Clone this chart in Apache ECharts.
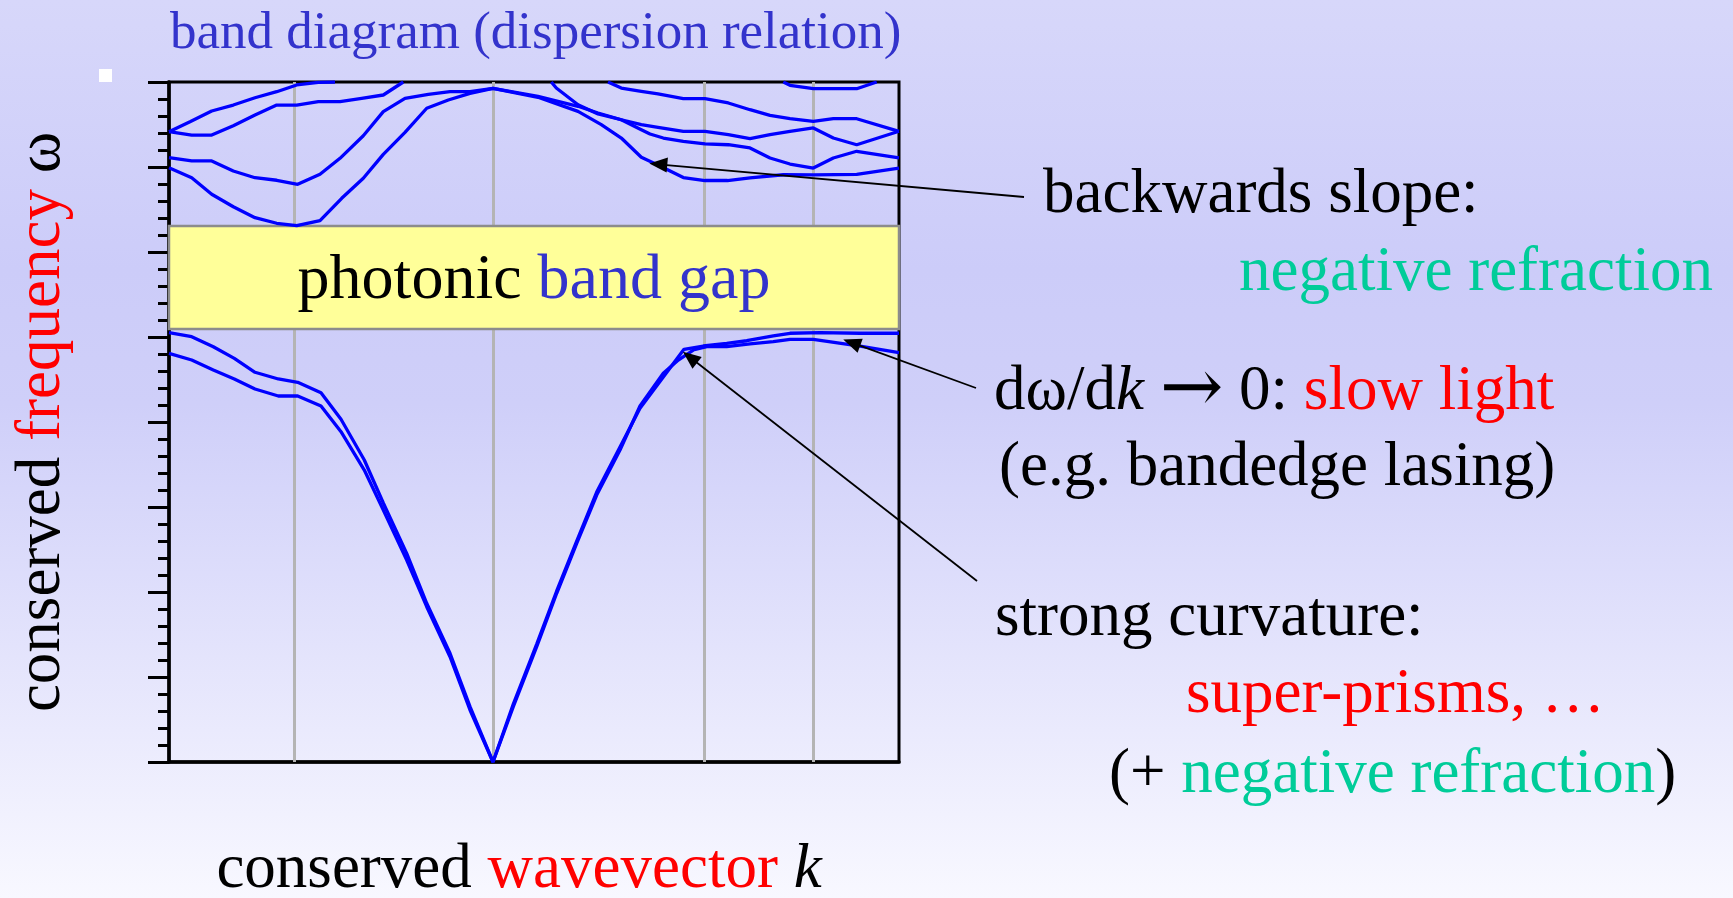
<!DOCTYPE html>
<html>
<head>
<meta charset="utf-8">
<title>band diagram</title>
<script src="https://cdn.jsdelivr.net/npm/echarts@6.0.0/dist/echarts.min.js"></script>
<style>
  html, body { margin: 0; padding: 0; }
  #chart { width: 1733px; height: 898px; }
</style>
</head>
<body>
<div id="chart"></div>
<script>
// k positions of the high-symmetry points (grey verticals)
const symK = [1.25, 3.24, 5.35, 6.44]
// photonic band gap [low, high] in ω
const gapRange = [5.094, 6.306]

// bands: [k, ω]
const band1 = [[0, 4.808], [0.227, 4.729], [0.443, 4.612], [0.653, 4.506], [0.86, 4.388], [1.093, 4.306],
  [1.287, 4.306], [1.52, 4.188], [1.72, 3.886], [1.953, 3.435], [2.143, 2.965], [2.377, 2.376],
  [2.577, 1.827], [2.81, 1.239], [3.01, 0.612], [3.24, 0], [3.443, 0.651], [3.677, 1.356],
  [3.877, 1.985], [4.077, 2.573], [4.277, 3.141], [4.51, 3.671], [4.71, 4.188], [4.943, 4.573],
  [5.093, 4.729], [5.243, 4.847], [5.377, 4.886], [5.577, 4.886], [5.81, 4.918], [6.043, 4.945],
  [6.21, 4.973], [6.443, 4.973], [6.91, 4.894], [7.3, 4.815]]
const band2 = [[0, 5.051], [0.227, 5.004], [0.443, 4.886], [0.653, 4.749], [0.86, 4.585], [1.093, 4.506],
  [1.287, 4.467], [1.52, 4.345], [1.72, 4.032], [1.953, 3.553], [2.143, 3.047], [2.377, 2.455],
  [2.577, 1.867], [2.81, 1.279], [3.01, 0.651], [3.24, 0], [3.443, 0.682], [3.677, 1.388],
  [3.877, 2.012], [4.077, 2.6], [4.277, 3.176], [4.51, 3.706], [4.71, 4.161], [5.15, 4.855],
  [5.343, 4.894], [5.577, 4.926], [5.777, 4.956], [6.043, 5.012], [6.21, 5.044], [6.51, 5.051],
  [6.91, 5.044], [7.3, 5.044]]
const band3 = [[0, 6.992], [0.227, 6.874], [0.427, 6.679], [0.643, 6.533], [0.86, 6.404], [1.077, 6.338],
  [1.277, 6.309], [1.51, 6.368], [1.727, 6.632], [1.943, 6.867], [2.143, 7.149], [2.36, 7.408],
  [2.577, 7.691], [2.793, 7.788], [3.01, 7.867], [3.24, 7.924], [3.69, 7.82], [4.09, 7.655],
  [4.323, 7.498], [4.523, 7.341], [4.723, 7.114], [4.91, 7.012], [5.143, 6.876], [5.36, 6.841],
  [5.585, 6.841], [5.81, 6.871], [6.143, 6.909], [6.443, 6.908], [6.877, 6.914], [7.3, 6.988]]
const band4 = [[0, 7.109], [0.227, 7.071], [0.427, 7.071], [0.643, 6.953], [0.86, 6.874], [1.077, 6.844],
  [1.287, 6.796], [1.51, 6.914], [1.71, 7.102], [1.943, 7.368], [2.143, 7.651], [2.36, 7.808],
  [2.593, 7.855], [2.81, 7.886], [3.01, 7.886], [3.24, 7.924], [3.69, 7.832], [3.89, 7.773],
  [4.09, 7.714], [4.29, 7.635], [4.523, 7.556], [4.723, 7.498], [4.89, 7.467], [5.143, 7.42],
  [5.36, 7.42], [5.593, 7.38], [5.81, 7.333], [6.01, 7.38], [6.21, 7.42], [6.443, 7.459],
  [6.643, 7.341], [6.877, 7.262], [7.3, 7.42]]
const band5 = [[0, 7.415], [0.227, 7.376], [0.427, 7.376], [0.643, 7.486], [0.86, 7.612], [1.077, 7.729],
  [1.277, 7.729], [1.493, 7.768], [1.71, 7.768], [1.927, 7.808], [2.143, 7.847], [2.343, 8]]
const band6 = [[0, 7.415], [0.21, 7.533], [0.427, 7.659], [0.643, 7.729], [0.86, 7.815], [1.077, 7.886],
  [1.277, 7.965], [1.493, 7.996], [1.66, 8]]
const band7 = [[3.823, 8], [3.873, 7.929], [4.09, 7.733], [4.29, 7.624], [4.523, 7.556], [4.723, 7.439],
  [4.81, 7.388], [4.943, 7.341], [5.143, 7.302], [5.36, 7.271], [5.593, 7.262], [5.81, 7.224],
  [6.01, 7.106], [6.21, 7.035], [6.443, 6.988], [6.643, 7.106], [6.877, 7.185], [7.3, 7.106]]
const band8 = [[4.39, 8], [4.523, 7.929], [4.723, 7.891], [4.89, 7.859], [5.143, 7.804], [5.36, 7.804],
  [5.593, 7.753], [5.81, 7.674], [6.01, 7.608], [6.21, 7.568], [6.443, 7.538], [6.643, 7.568],
  [6.877, 7.568], [7.3, 7.42]]
const band9 = [[6.143, 8], [6.21, 7.961], [6.443, 7.921], [6.877, 7.921], [7.077, 8]]

// arrow tips on the curves [k, ω]
const arrowTips = [[4.893, 7.032], [6.827, 4.933], [5.21, 4.761]]

const serif = '"Liberation Serif", "Times New Roman", serif'
const fs = 63
const rich = {
  k: { fill: '#000', color: '#000', fontSize: fs, fontFamily: serif },
  ki: { fill: '#000', color: '#000', fontSize: fs, fontFamily: serif, fontStyle: 'italic' },
  ar: { fill: '#000', color: '#000', fontSize: 76, fontFamily: '"DejaVu Serif"' },
  r: { fill: '#ff0000', color: '#ff0000', fontSize: fs, fontFamily: serif },
  g: { fill: '#00cc99', color: '#00cc99', fontSize: fs, fontFamily: serif },
  b: { fill: '#3333cc', color: '#3333cc', fontSize: fs, fontFamily: serif }
}

function note(text, x, y, align) {
  return {
    type: 'text', x: x, y: y, silent: true,
    style: { text: text, rich: rich, fontSize: fs, fontFamily: serif, align: align || 'left', verticalAlign: 'middle' }
  }
}

const chart = echarts.init(document.getElementById('chart'))

const bandSeries = [band1, band2, band3, band4, band5, band6, band7, band8, band9].map((d, i) => ({
  name: 'band' + (i + 1),
  type: 'line',
  data: d,
  symbol: 'none',
  silent: true,
  z: 3,
  lineStyle: { color: '#0000ff', width: 3.3 }
}))

const option = {
  animation: false,
  backgroundColor: new echarts.graphic.LinearGradient(0, 0, 0, 1, [
    { offset: 0, color: '#d7d7fa' },
    { offset: 0.3, color: '#ccccf9' },
    { offset: 0.45, color: '#cfcff9' },
    { offset: 1, color: '#f8f8ff' }
  ]),
  title: {
    text: 'band diagram (dispersion relation)',
    left: 170, top: 8, padding: 0,
    textStyle: { fontFamily: serif, fontSize: 53, fontWeight: 'normal', color: '#3333cc' }
  },
  grid: {
    left: 169, right: 834, top: 82, bottom: 136,
    show: true, borderColor: '#000', borderWidth: 3, backgroundColor: 'transparent',
    outerBoundsMode: 'none'
  },
  xAxis: {
    type: 'value', min: 0, max: 7.3,
    name: '{k|conserved }{r|wavevector}{k| }{ki|k}',
    nameLocation: 'middle', nameGap: 77,
    nameTextStyle: { fontFamily: serif, fontSize: 64, rich: rich, padding: [0, 30, 0, 0] },
    axisLine: { lineStyle: { color: '#000', width: 3.5 } },
    axisTick: { show: false }, axisLabel: { show: false }, splitLine: { show: false }
  },
  yAxis: {
    type: 'value', min: 0, max: 8, interval: 1,
    name: '{k|conserved }{r|frequency}{k| ω}',
    nameLocation: 'middle', nameGap: 95,
    nameTextStyle: { fontFamily: serif, fontSize: 64, rich: rich },
    axisLine: { lineStyle: { color: '#000', width: 3.5 } },
    axisTick: { show: true, length: 21, lineStyle: { color: '#000', width: 3 } },
    minorTick: { show: true, splitNumber: 5, length: 11, lineStyle: { color: '#000', width: 3 } },
    axisLabel: { show: false }, splitLine: { show: false }, minorSplitLine: { show: false }
  },
  graphic: [
    { type: 'rect', shape: { x: 99, y: 69, width: 13, height: 13 }, style: { fill: '#fff' }, silent: true },
    note('{k|backwards slope:}', 1043, 195),
    note('{g|negative refraction}', 1713, 273, 'right'),
    note('{k|dω/d}{ki|k}{k| }{ar|→}{k| 0: }{r|slow light}', 994, 392),
    note('{k|(e.g. bandedge lasing)}', 999, 468),
    note('{k|strong curvature:}', 995, 618),
    note('{r|super-prisms, …}', 1186, 695),
    note('{k|(+ }{g|negative refraction}{k|)}', 1109, 775)
  ],
  series: [
    {
      name: 'frame',
      type: 'line',
      data: [],
      silent: true,
      markLine: {
        z: 1, silent: true, symbol: 'none',
        label: { show: false },
        lineStyle: { color: '#b4b4b4', width: 3, type: 'solid' },
        data: symK.map(k => ({ xAxis: k }))
      },
      markArea: {
        z: 2, silent: true,
        itemStyle: { color: '#ffff99', borderColor: '#8c8c8c', borderWidth: 2.5 },
        label: {
          show: true, position: 'inside', offset: [0, 4],
          formatter: '{k|photonic }{b|band gap}',
          rich: {
            k: { color: '#000', fontSize: 64, fontFamily: serif },
            b: { color: '#3333cc', fontSize: 64, fontFamily: serif }
          }
        },
        data: [[{ yAxis: gapRange[0] }, { yAxis: gapRange[1] }]]
      }
    },
    ...bandSeries,
    {
      name: 'arrows',
      type: 'line',
      data: [],
      clip: false,
      silent: true,
      markLine: {
        z: 5, silent: true,
        symbol: ['none', 'triangle'], symbolSize: [15, 18],
        label: { show: false },
        lineStyle: { color: '#000', width: 1.8, type: 'solid' },
        data: [
          [{ x: 1024, y: 197 }, { coord: arrowTips[0] }],
          [{ x: 976, y: 388 }, { coord: arrowTips[1] }],
          [{ x: 977, y: 581 }, { coord: arrowTips[2] }]
        ]
      }
    }
  ]
}

chart.setOption(option)
window.addEventListener('resize', () => chart.resize())
</script>
</body>
</html>
